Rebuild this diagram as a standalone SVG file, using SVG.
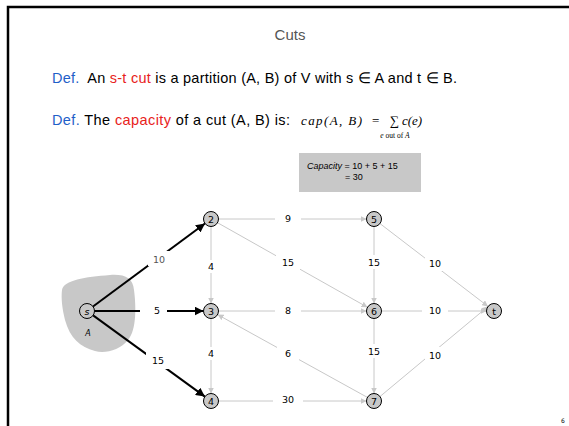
<svg xmlns="http://www.w3.org/2000/svg" width="569" height="426" viewBox="0 0 569 426">
<style>
.hd{font-family:"Liberation Sans",Arial,sans-serif;font-size:14.5px;fill:#000;white-space:pre}
.blue{fill:#1f5fc8}
.red{fill:#e8221b}
.math{font-family:"Liberation Serif","Times New Roman",serif;font-style:italic;fill:#000}
.g{stroke:#c8c8c8;stroke-width:1;fill:none}
.b{stroke:#000;stroke-width:2;fill:none}
.lbl{font-family:"DejaVu Sans",Verdana,sans-serif;font-size:9.5px;fill:#000;text-anchor:middle;dominant-baseline:central}
.bg{fill:#fff}
.node circle{fill:#c8c8c8;stroke:#000;stroke-width:1}
.node text{font-family:"DejaVu Sans",Verdana,sans-serif;font-size:9.5px;fill:#000;text-anchor:middle;dominant-baseline:central}
</style>
<defs>
<marker id="ag" viewBox="0 0 6 6" refX="6" refY="3" markerWidth="6" markerHeight="6" markerUnits="userSpaceOnUse" orient="auto">
<path d="M0,0 L6,3 L0,6 z" fill="#c8c8c8"/>
</marker>
<marker id="ab" viewBox="0 0 8 8" refX="8" refY="4" markerWidth="9" markerHeight="9" markerUnits="userSpaceOnUse" orient="auto">
<path d="M0,0 L8,4 L0,8 z" fill="#000"/>
</marker>
</defs>
<rect x="0" y="0" width="569" height="426" fill="#fff"/>
<path d="M8,426 L8,7 L569,7" fill="none" stroke="#000" stroke-width="2.5"/>
<text x="290" y="40" text-anchor="middle" style="font-family:'Liberation Sans',Arial,sans-serif;font-size:15px;fill:#555">Cuts</text>
<text class="hd" x="52" y="83" textLength="405"><tspan class="blue">Def.</tspan>  An <tspan class="red">s-t cut</tspan> is a partition (A, B) of V with s ∈ A and t ∈ B.</text>
<text class="hd" x="52" y="125" textLength="238"><tspan class="blue">Def.</tspan> The <tspan class="red">capacity</tspan> of a cut (A, B) is:</text>
<text class="math" x="301" y="125" font-size="13" textLength="61">cap(A, B)</text>
<text x="372" y="125" font-size="13" style="font-family:'Liberation Serif',serif">=</text>
<text x="390" y="125" font-size="13" style="font-family:'Liberation Serif',serif">∑</text>
<text class="math" x="402" y="125" font-size="13">c(e)</text>
<text class="math" x="395" y="138" font-size="7.5" text-anchor="middle">e <tspan font-style="normal">out of</tspan> A</text>
<rect x="299" y="153" width="122" height="39" fill="#c8c8c8"/>
<text x="307" y="169" style="font-family:'Liberation Sans',Arial,sans-serif;font-size:9px"><tspan font-style="italic">Capacity</tspan> = 10 + 5 + 15</text>
<text x="345" y="180" style="font-family:'Liberation Sans',Arial,sans-serif;font-size:9px">= 30</text>
<path d="M62,290 C64,280 85,277 110,275 C125,274 133,278 134,290 C136,305 137,330 128,340 C120,350 105,354 95,351 C80,347 70,338 65,320 C62,308 61,298 62,290 Z" fill="#c8c8c8"/>
<text x="88" y="336" text-anchor="middle" style="font-family:'DejaVu Sans',sans-serif;font-size:8px;font-style:italic">A</text>
<g id="connectors">
<line class="b" x1="93" y1="306.5" x2="205" y2="223.5" marker-end="url(#ab)"/>
<line class="b" x1="94.5" y1="311" x2="203.5" y2="311" marker-end="url(#ab)"/>
<line class="b" x1="93.1" y1="315.4" x2="204.9" y2="396.6" marker-end="url(#ab)"/>
<line class="g" x1="218.5" y1="219" x2="366.5" y2="219" marker-end="url(#ag)"/>
<line class="g" x1="211" y1="226.5" x2="211" y2="303.5" marker-end="url(#ag)"/>
<line class="g" x1="217.5" y1="222.7" x2="367.5" y2="307.3" marker-end="url(#ag)"/>
<line class="g" x1="218.5" y1="311" x2="366.5" y2="311" marker-end="url(#ag)"/>
<line class="g" x1="367.4" y1="397.4" x2="217.6" y2="314.6" marker-end="url(#ag)"/>
<line class="g" x1="211" y1="318.5" x2="211" y2="393.5" marker-end="url(#ag)"/>
<line class="g" x1="218.5" y1="401" x2="366.5" y2="401" marker-end="url(#ag)"/>
<line class="g" x1="374" y1="226.5" x2="374" y2="303.5" marker-end="url(#ag)"/>
<line class="g" x1="374" y1="318.5" x2="374" y2="393.5" marker-end="url(#ag)"/>
<line class="g" x1="380" y1="223.6" x2="488" y2="306.4" marker-end="url(#ag)"/>
<line class="g" x1="381.5" y1="311" x2="486.5" y2="311" marker-end="url(#ag)"/>
<line class="g" x1="380" y1="396.5" x2="488" y2="306.5" marker-end="url(#ag)"/>
<rect class="bg" x="148" y="251" width="22" height="15"/><text class="lbl" x="159" y="259" style="fill:#555">10</text>
<rect class="bg" x="140" y="304" width="27" height="14"/><text class="lbl" x="157" y="310">5</text>
<rect class="bg" x="146" y="352" width="24" height="17"/><text class="lbl" x="158" y="360">15</text>
<rect class="bg" x="205" y="260" width="12" height="13"/><text class="lbl" x="211" y="266">4</text>
<rect class="bg" x="205" y="347" width="12" height="13"/><text class="lbl" x="211" y="353">4</text>
<rect class="bg" x="275" y="212" width="26" height="14"/><text class="lbl" x="288" y="218">9</text>
<rect class="bg" x="276" y="254" width="24" height="16"/><text class="lbl" x="288" y="262">15</text>
<rect class="bg" x="275" y="304" width="26" height="14"/><text class="lbl" x="288" y="310">8</text>
<rect class="bg" x="277" y="345" width="22" height="16"/><text class="lbl" x="288" y="353">6</text>
<rect class="bg" x="273" y="393" width="30" height="14"/><text class="lbl" x="288" y="399">30</text>
<rect class="bg" x="366" y="255" width="16" height="14"/><text class="lbl" x="374" y="262">15</text>
<rect class="bg" x="366" y="344" width="16" height="14"/><text class="lbl" x="374" y="351">15</text>
<rect class="bg" x="425" y="255" width="20" height="16"/><text class="lbl" x="435" y="263">10</text>
<rect class="bg" x="422" y="304" width="26" height="14"/><text class="lbl" x="435" y="310">10</text>
<rect class="bg" x="425" y="347" width="20" height="16"/><text class="lbl" x="435" y="355">10</text>
</g>
<g id="node-s" class="node"><circle cx="87" cy="311" r="7.5"/><text x="87" y="311" font-style="italic">s</text></g>
<g id="node-2" class="node"><circle cx="211" cy="219" r="7.5"/><text x="211" y="219">2</text></g>
<g id="node-3" class="node"><circle cx="211" cy="311" r="7.5"/><text x="211" y="311">3</text></g>
<g id="node-4" class="node"><circle cx="211" cy="401" r="7.5"/><text x="211" y="401">4</text></g>
<g id="node-5" class="node"><circle cx="374" cy="219" r="7.5"/><text x="374" y="219">5</text></g>
<g id="node-6" class="node"><circle cx="374" cy="311" r="7.5"/><text x="374" y="311">6</text></g>
<g id="node-7" class="node"><circle cx="374" cy="401" r="7.5"/><text x="374" y="401">7</text></g>
<g id="node-t" class="node"><circle cx="494" cy="311" r="7.5"/><text x="494" y="311">t</text></g>
<text x="563" y="423" text-anchor="middle" style="font-family:'DejaVu Sans',sans-serif;font-size:6px">6</text>
</svg>
